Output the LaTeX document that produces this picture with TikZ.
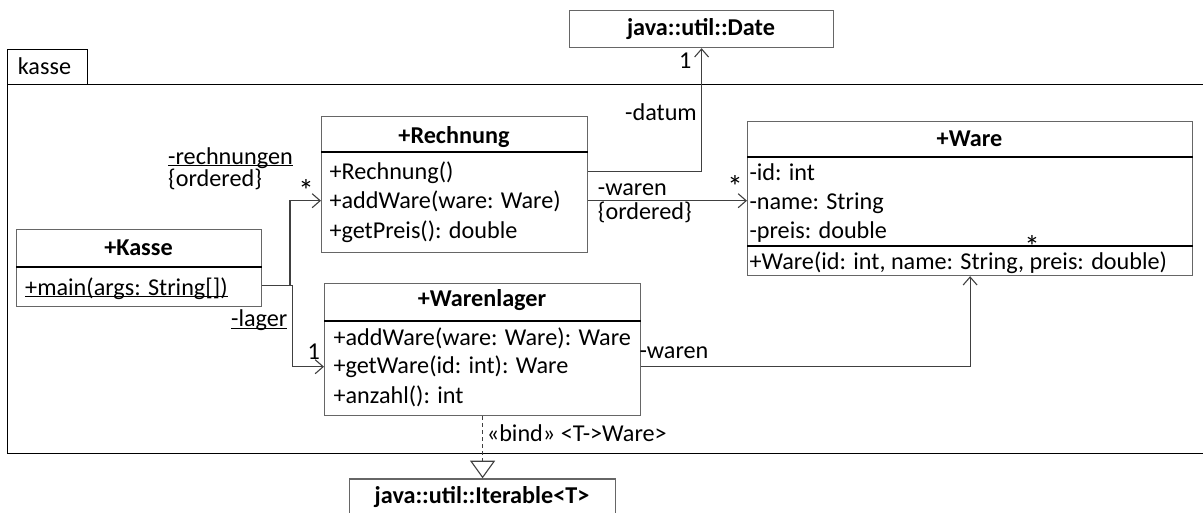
\documentclass[tikz,border=0pt]{standalone}
\usepackage{fontspec}
\setmainfont{Carlito}
\usetikzlibrary{arrows.meta}
\newcommand\myul[1]{\setbox0\hbox{#1}\rlap{\rule[-2.4pt]{\wd0}{1.1pt}}\box0}
\begin{document}
\begin{tikzpicture}[x=1pt,y=-1pt,
  font=\fontsize{24.2}{28}\selectfont,
  box/.style={draw=black!60, line width=1.2pt, inner sep=0pt, anchor=north west, rectangle},
  sep/.style={draw=black, line width=1.2pt},
  txt/.style={inner sep=0pt, anchor=base west},
  star/.style={inner sep=0pt, anchor=base, font=\fontsize{31}{34}\selectfont},
  hdr/.style={inner sep=0pt, anchor=base, font=\fontsize{24.2}{28}\selectfont\bfseries},
  conn/.style={draw=black!75, line width=1.1pt},
  nav/.style={conn, -{Straight Barb[length=8pt,width=14pt,line width=1.1pt]}},
  real/.style={conn, dashed, dash pattern=on 4pt off 3pt, -{Triangle[open,length=17.6pt,width=25pt,line width=1.1pt]}}]
\clip (0,0) rectangle (1203,512);
% package frame
\node[box, draw=black, minimum width=80pt, minimum height=35pt] (tab) at (7,49) {};
\node[box, draw=black, minimum width=1220pt, minimum height=369pt] (pkg) at (7,84) {};
\node[txt] (pkgname) at (17.7,74) {kasse};
% Date
\node[box, minimum width=264pt, minimum height=37pt] (date) at (569,10) {};
\node[hdr] (dateh) at (701,35) {java::util::Date};
% Rechnung
\node[box, minimum width=266pt, minimum height=136pt] (rech) at (321,116) {};
\draw[sep] (rech.west |- 0,152) -- (rech.east |- 0,152);
\node[hdr] (rechh) at (454,143) {+Rechnung};
\node[txt] (rech1) at (329.3,179) {+Rechnung()};
\node[txt] (rech2) at (329.3,208.5) {+addWare(ware: Ware)};
\node[txt] (rech3) at (329.3,238) {+getPreis(): double};
% Ware
\node[box, minimum width=445pt, minimum height=154pt] (ware) at (747,121) {};
\draw[sep] (ware.west |- 0,157) -- (ware.east |- 0,157);
\draw[sep] (ware.west |- 0,246) -- (ware.east |- 0,246);
\node[hdr] (wareh) at (969.5,146) {+Ware};
\node[txt] (ware1) at (749.3,180) {-id: int};
\node[txt] (ware2) at (749.3,209.5) {-name: String};
\node[txt] (ware3) at (749.3,238.5) {-preis: double};
\node[txt] (ware4) at (749.3,269) {+Ware(id: int, name: String, preis: double)};
% Kasse
\node[box, minimum width=245pt, minimum height=77pt] (kasse) at (16,229) {};
\draw[sep] (kasse.west |- 0,267) -- (kasse.east |- 0,267);
\node[hdr] (kasseh) at (138.5,255) {+Kasse};
\node[txt] (kasse1) at (25,295) {\myul{+main(args: String[])}};
% Warenlager
\node[box, minimum width=316pt, minimum height=132pt] (wl) at (324,283) {};
\draw[sep] (wl.west |- 0,321) -- (wl.east |- 0,321);
\node[hdr] (wlh) at (482,306.7) {+Warenlager};
\node[txt] (wl1) at (333.3,345) {+addWare(ware: Ware): Ware};
\node[txt] (wl2) at (333.3,373.3) {+getWare(id: int): Ware};
\node[txt] (wl3) at (333.3,403.3) {+anzahl(): int};
% Iterable
\node[box, minimum width=266pt, minimum height=42pt] (iter) at (349,478.3) {};
\node[hdr] (iterh) at (482,503) {java::util::Iterable<T>};
% connectors
\draw[nav] (rech.east |- 0,171.7) -| (date.south);
\draw[nav] (rech.east |- 0,200.7) -- (ware.west |- 0,200.7);
\draw[nav] (kasse.east |- 0,285.7) -- (290,285.7) |- (rech.west |- 0,200.7);
\draw[nav] (kasse.east |- 0,285.7) -- (292.3,285.7) |- (wl.west |- 0,366.7);
\draw[nav] (wl.east |- 0,366.7) -| (ware.south);
\draw[real] (wl.south) -- (iter.north);
% labels
\node[txt] (l1) at (679,68) {1};
\node[inner sep=0pt, anchor=base east] (l2) at (697,120) {-datum};
\node[txt] (l3) at (597.7,195) {-waren};
\node[txt] (l4) at (597.7,219) {\{ordered\}};
\node[star] (l5) at (735,197) {*};
\node[txt] (l6) at (168,164) {\myul{-rechnungen}};
\node[txt] (l7) at (168,186) {\{ordered\}};
\node[star] (l8) at (306,201) {*};
\node[txt] (l9) at (231,326.7) {\myul{-lager}};
\node[txt] (l10) at (307.3,359.3) {1};
\node[txt] (l11) at (639.3,358.3) {-waren};
\node[star] (l12) at (1032,257) {*};
\node[txt] (l13) at (486.7,441.7) {«bind» <T->Ware>};
\end{tikzpicture}
\end{document}
